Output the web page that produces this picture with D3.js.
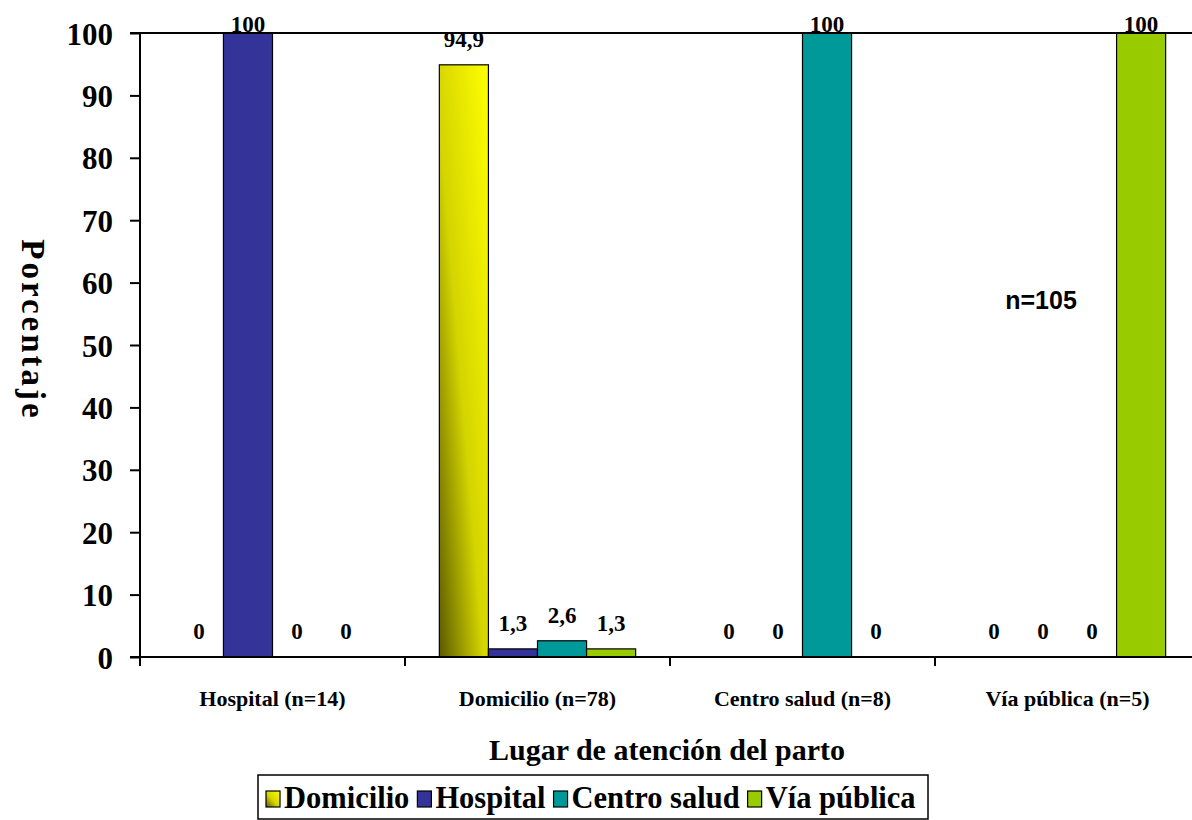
<!DOCTYPE html>
<html>
<head>
<meta charset="utf-8">
<script src="https://cdn.jsdelivr.net/npm/d3@7"></script>
<style>
  html, body { margin: 0; padding: 0; background: #fff; }
  svg { display: block; }
  text { font-family: "Liberation Serif", "Times New Roman", serif; font-weight: bold; fill: #000; }
</style>
</head>
<body>
<svg id="chart" width="1192" height="820"></svg>
<script>
// ---- data ----
const categories = ["Hospital (n=14)", "Domicilio (n=78)", "Centro salud (n=8)", "Vía pública (n=5)"];
const seriesNames = ["Domicilio", "Hospital", "Centro salud", "Vía pública"];
const domicilioValues   = [0, 94.9, 0, 0];
const hospitalValues    = [100, 1.3, 0, 0];
const centroSaludValues = [0, 2.6, 100, 0];
const viaPublicaValues  = [0, 1.3, 0, 100];
const yTicks = [0, 10, 20, 30, 40, 50, 60, 70, 80, 90, 100];
const seriesColors = ["url(#gradDomicilio)", "#333399", "#009999", "#99CC00"];
const yTitle = "Porcentaje";
const xTitle = "Lugar de atención del parto";
const note = "n=105";

const seriesValues = [domicilioValues, hospitalValues, centroSaludValues, viaPublicaValues];

// ---- layout ----
const svg = d3.select("#chart");
const pLeft = 140, pRight = 1200, pTop = 33, pBottom = 657;

const defs = svg.append("defs");
const grad = defs.append("linearGradient").attr("id", "gradDomicilio")
  .attr("x1", 0).attr("y1", 1).attr("x2", 1).attr("y2", 0);
grad.append("stop").attr("offset", 0).attr("stop-color", "#5a5a00");
grad.append("stop").attr("offset", 0.45).attr("stop-color", "#d4d400");
grad.append("stop").attr("offset", 1).attr("stop-color", "#ffff00");

const x0 = d3.scaleBand().domain(categories).range([pLeft, pRight]).paddingInner(0).paddingOuter(0);
const x1 = d3.scaleBand().domain(seriesNames).range([0, x0.bandwidth()]).paddingInner(0).paddingOuter(0.7);
const y = d3.scaleLinear().domain([0, 100]).range([pBottom, pTop]);

// bars
const rows = [];
categories.forEach((c, ci) => {
  seriesNames.forEach((s, si) => {
    rows.push({ cat: c, ser: s, si, v: seriesValues[si][ci] });
  });
});

svg.append("g").selectAll("rect")
  .data(rows.filter(d => d.v > 0))
  .join("rect")
  .attr("x", d => x0(d.cat) + x1(d.ser))
  .attr("y", d => y(d.v))
  .attr("width", x1.bandwidth())
  .attr("height", d => y(0) - y(d.v))
  .attr("fill", d => seriesColors[d.si])
  .attr("stroke", "#000")
  .attr("stroke-width", 1.2);

// value labels
svg.append("g").selectAll("text")
  .data(rows)
  .join("text")
  .attr("x", d => x0(d.cat) + x1(d.ser) + x1.bandwidth() / 2)
  .attr("y", d => Math.max(y(d.v) - 18, pTop - 1))
  .attr("text-anchor", "middle")
  .attr("font-size", 23)
  .text(d => String(d.v).replace(".", ","));

// y axis
const yAxis = d3.axisLeft(y).tickValues(yTicks).tickSize(10).tickPadding(17).tickFormat(d3.format("d"));
const gy = svg.append("g").attr("transform", `translate(${pLeft},0)`).call(yAxis);
gy.select(".domain").attr("stroke", "#000").attr("stroke-width", 2).attr("d", `M-10,${pTop}H0V${pBottom}H-10`);
gy.selectAll(".tick line").attr("stroke", "#000").attr("stroke-width", 2);
gy.selectAll(".tick text").attr("font-size", 31).attr("font-family", "Liberation Serif, serif")
  .attr("font-weight", "bold").attr("dy", "0.36em");

// x axis
const xAxis = d3.axisBottom(x0).tickSize(0).tickPadding(33);
const gx = svg.append("g").attr("transform", `translate(0,${pBottom})`).call(xAxis);
gx.select(".domain").remove();
gx.selectAll(".tick text").attr("font-size", 22).attr("font-family", "Liberation Serif, serif").attr("font-weight", "bold");

// baseline and top line
svg.append("line").attr("x1", pLeft).attr("x2", 1192).attr("y1", pBottom).attr("y2", pBottom)
  .attr("stroke", "#000").attr("stroke-width", 2);
svg.append("line").attr("x1", pLeft).attr("x2", 1192).attr("y1", pTop).attr("y2", pTop)
  .attr("stroke", "#000").attr("stroke-width", 2);

// x boundary ticks
svg.append("g").selectAll("line")
  .data(categories)
  .join("line")
  .attr("x1", d => x0(d)).attr("x2", d => x0(d))
  .attr("y1", pBottom).attr("y2", pBottom + 9)
  .attr("stroke", "#000").attr("stroke-width", 2);

// titles
svg.append("text")
  .attr("transform", `translate(22,330) rotate(90)`)
  .attr("text-anchor", "middle")
  .attr("font-size", 33)
  .attr("letter-spacing", 3)
  .text(yTitle);

svg.append("text")
  .attr("x", 667).attr("y", 760)
  .attr("text-anchor", "middle")
  .attr("font-size", 30)
  .text(xTitle);

svg.append("text")
  .attr("x", 1041).attr("y", 309)
  .attr("text-anchor", "middle")
  .attr("font-size", 25)
  .style("font-family", "Liberation Sans, Arial, sans-serif")
  .text(note);

// legend
const lg = svg.append("g");
lg.append("rect").attr("x", 258).attr("y", 775).attr("width", 670).attr("height", 44)
  .attr("fill", "#fff").attr("stroke", "#000").attr("stroke-width", 1.5);
let lx = 266;
seriesNames.forEach((s, i) => {
  lg.append("rect").attr("x", lx).attr("y", 791).attr("width", 14).attr("height", 16)
    .attr("fill", seriesColors[i]).attr("stroke", "#000").attr("stroke-width", 1.2);
  const t = lg.append("text").attr("x", lx + 18).attr("y", 808).attr("font-size", 30.5).text(s);
  const w = t.node().getComputedTextLength();
  lx += 18 + w + 8;
});
</script>
</body>
</html>
